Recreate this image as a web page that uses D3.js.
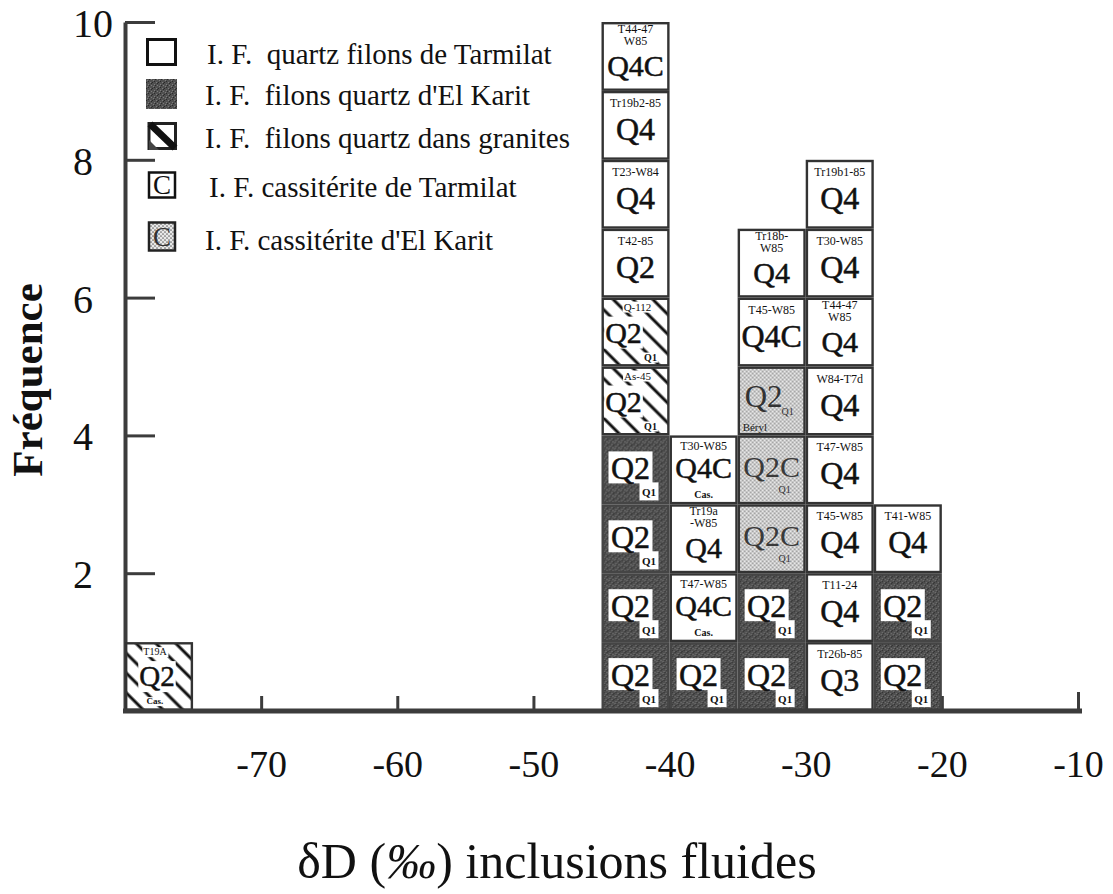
<!DOCTYPE html>
<html>
<head>
<meta charset="utf-8">
<script src="https://cdn.jsdelivr.net/npm/d3@7"></script>
<style>
  body { margin: 0; background: #fff; }
  svg text { font-family: "Liberation Serif", "Times New Roman", serif; white-space: pre; }
</style>
</head>
<body>
<svg id="chart" width="1113" height="894"></svg>
<script>
// δD classes (lower edge of each 5 ‰ class)
const binStarts = [-80, -45, -40, -35, -30, -25];
const binWidth = 5;

// Columns, each listed from bottom to top: [type, sample, phase code, note]
// "|" splits a sample name over two lines
const colM80 = [["granite", "T19A", "Q2", "Cas."]];
const colM45 = [
  ["karit", "", "Q2", "Q1"],
  ["karit", "", "Q2", "Q1"],
  ["karit", "", "Q2", "Q1"],
  ["karit", "", "Q2", "Q1"],
  ["granite", "As-45", "Q2", "Q1"],
  ["granite", "Q-112", "Q2", "Q1"],
  ["tarmilat", "T42-85", "Q2", ""],
  ["tarmilat", "T23-W84", "Q4", ""],
  ["tarmilat", "Tr19b2-85", "Q4", ""],
  ["tarmilat", "T44-47|W85", "Q4C", ""]
];
const colM40 = [
  ["karit", "", "Q2", "Q1"],
  ["tarmilat", "T47-W85", "Q4C", "Cas."],
  ["tarmilat", "Tr19a|-W85", "Q4", ""],
  ["tarmilat", "T30-W85", "Q4C", "Cas."]
];
const colM35 = [
  ["karit", "", "Q2", "Q1"],
  ["karit", "", "Q2", "Q1"],
  ["cassKarit", "", "Q2C", "Q1"],
  ["cassKarit", "", "Q2C", "Q1"],
  ["cassKarit", "Béryl", "Q2", "Q1"],
  ["tarmilat", "T45-W85", "Q4C", ""],
  ["tarmilat", "Tr18b-|W85", "Q4", ""]
];
const colM30 = [
  ["tarmilat", "Tr26b-85", "Q3", ""],
  ["tarmilat", "T11-24", "Q4", ""],
  ["tarmilat", "T45-W85", "Q4", ""],
  ["tarmilat", "T47-W85", "Q4", ""],
  ["tarmilat", "W84-T7d", "Q4", ""],
  ["tarmilat", "T44-47|W85", "Q4", ""],
  ["tarmilat", "T30-W85", "Q4", ""],
  ["tarmilat", "Tr19b1-85", "Q4", ""]
];
const colM25 = [
  ["karit", "", "Q2", "Q1"],
  ["karit", "", "Q2", "Q1"],
  ["tarmilat", "T41-W85", "Q4", ""]
];
const columns = [colM80, colM45, colM40, colM35, colM30, colM25];

const xTicks = [-70, -60, -50, -40, -30, -20, -10];
const yTicks = [2, 4, 6, 8, 10];

const legendTypes = ["tarmilat", "karit", "granite", "cassTarmilat", "cassKarit"];
const legendLabels = [
  "I. F.  quartz filons de Tarmilat",
  "I. F.  filons quartz d'El Karit",
  "I. F.  filons quartz dans granites",
  "I. F. cassitérite de Tarmilat",
  "I. F. cassitérite d'El Karit"
];

const xTitle = "δD (‰) inclusions fluides";
const yTitle = "Fréquence";

const svg = d3.select("#chart");
const x = d3.scaleLinear().domain([-80, -10]).range([125, 1078]);
const y = d3.scaleLinear().domain([0, 10]).range([711, 22]);

// ---- fill patterns ----
const defs = svg.append("defs");
const dark = defs.append("pattern").attr("id", "darkFill")
  .attr("patternUnits", "userSpaceOnUse").attr("width", 6).attr("height", 6);
dark.append("rect").attr("width", 6).attr("height", 6).attr("fill", "#505050");
[[1, 1], [4, 3], [2, 5], [5, 0]].forEach(([a, b]) =>
  dark.append("rect").attr("x", a).attr("y", b).attr("width", 1).attr("height", 1).attr("fill", "#7c7c7c"));
[[3, 0], [5, 4], [0, 3], [2, 2]].forEach(([a, b]) =>
  dark.append("rect").attr("x", a).attr("y", b).attr("width", 1).attr("height", 1).attr("fill", "#2a2a2a"));

const dots = defs.append("pattern").attr("id", "dots")
  .attr("patternUnits", "userSpaceOnUse").attr("width", 4).attr("height", 4);
dots.append("rect").attr("width", 4).attr("height", 4).attr("fill", "#e8e8e8");
dots.append("circle").attr("cx", 1).attr("cy", 1).attr("r", 0.85).attr("fill", "#6a6a6a");
dots.append("circle").attr("cx", 3).attr("cy", 3).attr("r", 0.85).attr("fill", "#6a6a6a");

const hatch = defs.append("pattern").attr("id", "hatch")
  .attr("patternUnits", "userSpaceOnUse").attr("width", 14).attr("height", 14)
  .attr("patternTransform", "rotate(-45)");
hatch.append("rect").attr("width", 14).attr("height", 14).attr("fill", "#fff");
hatch.append("line").attr("x1", 7).attr("x2", 7).attr("y1", 0).attr("y2", 14)
  .attr("stroke", "#111").attr("stroke-width", 3);

// ---- axes ----
const yAxis = svg.append("g").attr("transform", `translate(${x(-80)},0)`)
  .call(d3.axisLeft(y).tickValues(yTicks).tickSize(-30).tickSizeOuter(0).tickFormat(d3.format("d")));
yAxis.select(".domain").attr("stroke", "#3c3c3c").attr("stroke-width", 4);
yAxis.selectAll(".tick line").attr("stroke", "#3c3c3c").attr("stroke-width", 3);
yAxis.selectAll(".tick text")
  .attr("text-anchor", "start").attr("x", -52).attr("dy", "0.36em")
  .attr("font-size", 40).attr("fill", "#111");

const xAxis = svg.append("g").attr("transform", `translate(0,${y(0)})`)
  .call(d3.axisBottom(x).tickValues(xTicks).tickSize(-15).tickSizeOuter(0).tickPadding(39).tickFormat(d3.format("d")));
xAxis.select(".domain").remove();
xAxis.selectAll(".tick line").attr("stroke", "#3c3c3c").attr("stroke-width", 3)
  .attr("y2", d => d === -10 ? -19 : -15);
xAxis.selectAll(".tick text").attr("font-size", 38).attr("fill", "#111")
  .text(d => "-" + Math.abs(d));

// ---- stacked sample cells ----
function addText(g, str, cx, by, size, opts = {}) {
  return g.append("text").attr("x", cx).attr("y", by)
    .attr("text-anchor", opts.anchor || "middle")
    .attr("font-size", size)
    .attr("font-weight", opts.bold ? "bold" : null)
    .attr("fill", opts.fill || "#111")
    .attr("stroke", opts.heavy ? (opts.fill || "#111") : null)
    .attr("stroke-width", opts.heavy ? 0.5 : null)
    .text(str);
}
function whiteBehind(g, t, pad) {
  const b = t.node().getBBox();
  g.insert("rect", () => t.node())
    .attr("x", b.x - pad).attr("y", b.y + 1).attr("width", b.width + 2 * pad).attr("height", b.height - 1)
    .attr("fill", "#fff");
}

const fills = { tarmilat: "#fff", karit: "url(#darkFill)", granite: "url(#hatch)", cassKarit: "url(#dots)" };
const cellLayer = svg.append("g");

columns.forEach((col, i) => {
  const x0 = x(binStarts[i]);
  const w = x(binStarts[i] + binWidth) - x0;
  col.forEach(([type, sample, code, note], j) => {
    const top = y(j + 1);
    const h = y(j) - top;
    const g = cellLayer.append("g").attr("transform", `translate(${x0},${top})`);
    g.append("rect").attr("x", 1.2).attr("y", 1.2).attr("width", w - 2.4).attr("height", h - 2.4)
      .attr("fill", fills[type])
      .attr("stroke", type === "karit" ? "#454545" : "#333")
      .attr("stroke-width", 2.4);
    const lines = sample ? sample.split("|") : [];

    if (type === "karit") {
      g.append("rect").attr("x", 7).attr("y", 16).attr("width", 44).attr("height", 32).attr("fill", "#fff");
      g.append("rect").attr("x", 38).attr("y", 47).attr("width", 19).attr("height", 18).attr("fill", "#fff");
      addText(g, code, 29, 44, 32, { heavy: true });
      addText(g, note, 47.5, 61, 11, { bold: true });
    } else if (type === "granite") {
      if (note === "Q1") {
        const s = addText(g, lines[0], 36, 13, 11);
        whiteBehind(g, s, 1);
        const b = addText(g, code, 22, 45, 30, { heavy: true });
        whiteBehind(g, b, 1);
        const q = addText(g, note, 49, 63, 10, { bold: true });
        whiteBehind(g, q, 1);
      } else {
        const s = addText(g, lines[0], 30, 13, 10);
        whiteBehind(g, s, 1);
        const b = addText(g, code, 32, 44, 29, { heavy: true });
        whiteBehind(g, b, 1);
        const c = addText(g, note, 30, 62, 9, { bold: true });
        whiteBehind(g, c, 1);
      }
    } else if (type === "cassKarit") {
      if (sample) {
        addText(g, code, 26, 40, 31, { fill: "#333" });
        addText(g, note, 50, 48, 10, { fill: "#333" });
        addText(g, sample, 5, 64, 11, { anchor: "start", fill: "#222" });
      } else {
        addText(g, code, w / 2, 42, 30, { fill: "#3a3a3a" });
        addText(g, note, 47, 58, 10, { fill: "#333" });
      }
    } else {
      if (lines.length === 2) {
        addText(g, lines[0], w / 2, 11, 12);
        addText(g, lines[1], w / 2, 23, 12);
        addText(g, code, w / 2, 54, 30, { heavy: true });
      } else if (note) {
        addText(g, lines[0], w / 2, 15, 12);
        addText(g, code, w / 2, 43, 30, { heavy: true });
        addText(g, note, w / 2, 63, 10, { bold: true });
      } else {
        addText(g, lines[0], w / 2, 16, 12);
        addText(g, code, w / 2, 49, 32, { heavy: true });
      }
    }
  });
});

// baseline drawn over the cells
svg.append("line").attr("x1", x(-80) - 2).attr("x2", x(-10) + 4)
  .attr("y1", y(0)).attr("y2", y(0))
  .attr("stroke", "#3c3c3c").attr("stroke-width", 5);

// ---- legend ----
const legendTop = [38, 79, 122, 171, 221];
const legendTextX = [207, 205, 205, 209, 205];
const legendBase = [64, 105, 148, 197, 250];
const legend = svg.append("g");
legendTypes.forEach((t, i) => {
  const g = legend.append("g").attr("transform", `translate(146,${legendTop[i]})`);
  const sw = 31, sh = 28;
  if (t === "tarmilat") {
    g.append("rect").attr("x", 1.5).attr("y", 1.5).attr("width", sw - 3).attr("height", sh - 3)
      .attr("fill", "#fff").attr("stroke", "#111").attr("stroke-width", 3);
  } else if (t === "karit") {
    g.append("rect").attr("width", sw).attr("height", sh + 2).attr("fill", "url(#darkFill)");
  } else if (t === "granite") {
    g.append("rect").attr("x", 3).attr("y", 1.5).attr("width", sw - 4.5).attr("height", sh - 3)
      .attr("fill", "#fff").attr("stroke", "#222").attr("stroke-width", 3);
    g.append("path").attr("d", `M3,${sh - 10}L3,${sh}L13,${sh}Z`).attr("fill", "#444");
    g.append("line").attr("x1", 4).attr("y1", 2).attr("x2", sw - 2).attr("y2", sh - 2)
      .attr("stroke", "#111").attr("stroke-width", 7);
  } else if (t === "cassTarmilat") {
    g.append("rect").attr("x", 3).attr("y", 1.5).attr("width", sw - 5).attr("height", sh - 3)
      .attr("fill", "#fff").attr("stroke", "#111").attr("stroke-width", 2.5);
    addText(g, "C", 3 + (sw - 5) / 2, sh - 5, 27);
  } else {
    g.append("rect").attr("x", 3).attr("y", 1.5).attr("width", sw - 5).attr("height", sh)
      .attr("fill", "url(#dots)").attr("stroke", "#222").attr("stroke-width", 2.5);
    addText(g, "C", 3 + (sw - 5) / 2, sh - 3, 27, { fill: "#333" });
  }
  addText(legend, legendLabels[i], legendTextX[i], legendBase[i], 29, { anchor: "start" });
});

// ---- titles ----
const xt = svg.append("text").attr("x", 557).attr("y", 878).attr("text-anchor", "middle")
  .attr("font-size", 50).attr("fill", "#111");
xt.append("tspan").text("δD (");
xt.append("tspan").attr("font-style", "italic").text("‰");
xt.append("tspan").text(") inclusions fluides");

svg.append("text").attr("transform", "translate(42,380) rotate(-90)")
  .attr("text-anchor", "middle").attr("font-size", 43).attr("font-weight", "bold")
  .attr("fill", "#111").text(yTitle);
</script>
</body>
</html>
